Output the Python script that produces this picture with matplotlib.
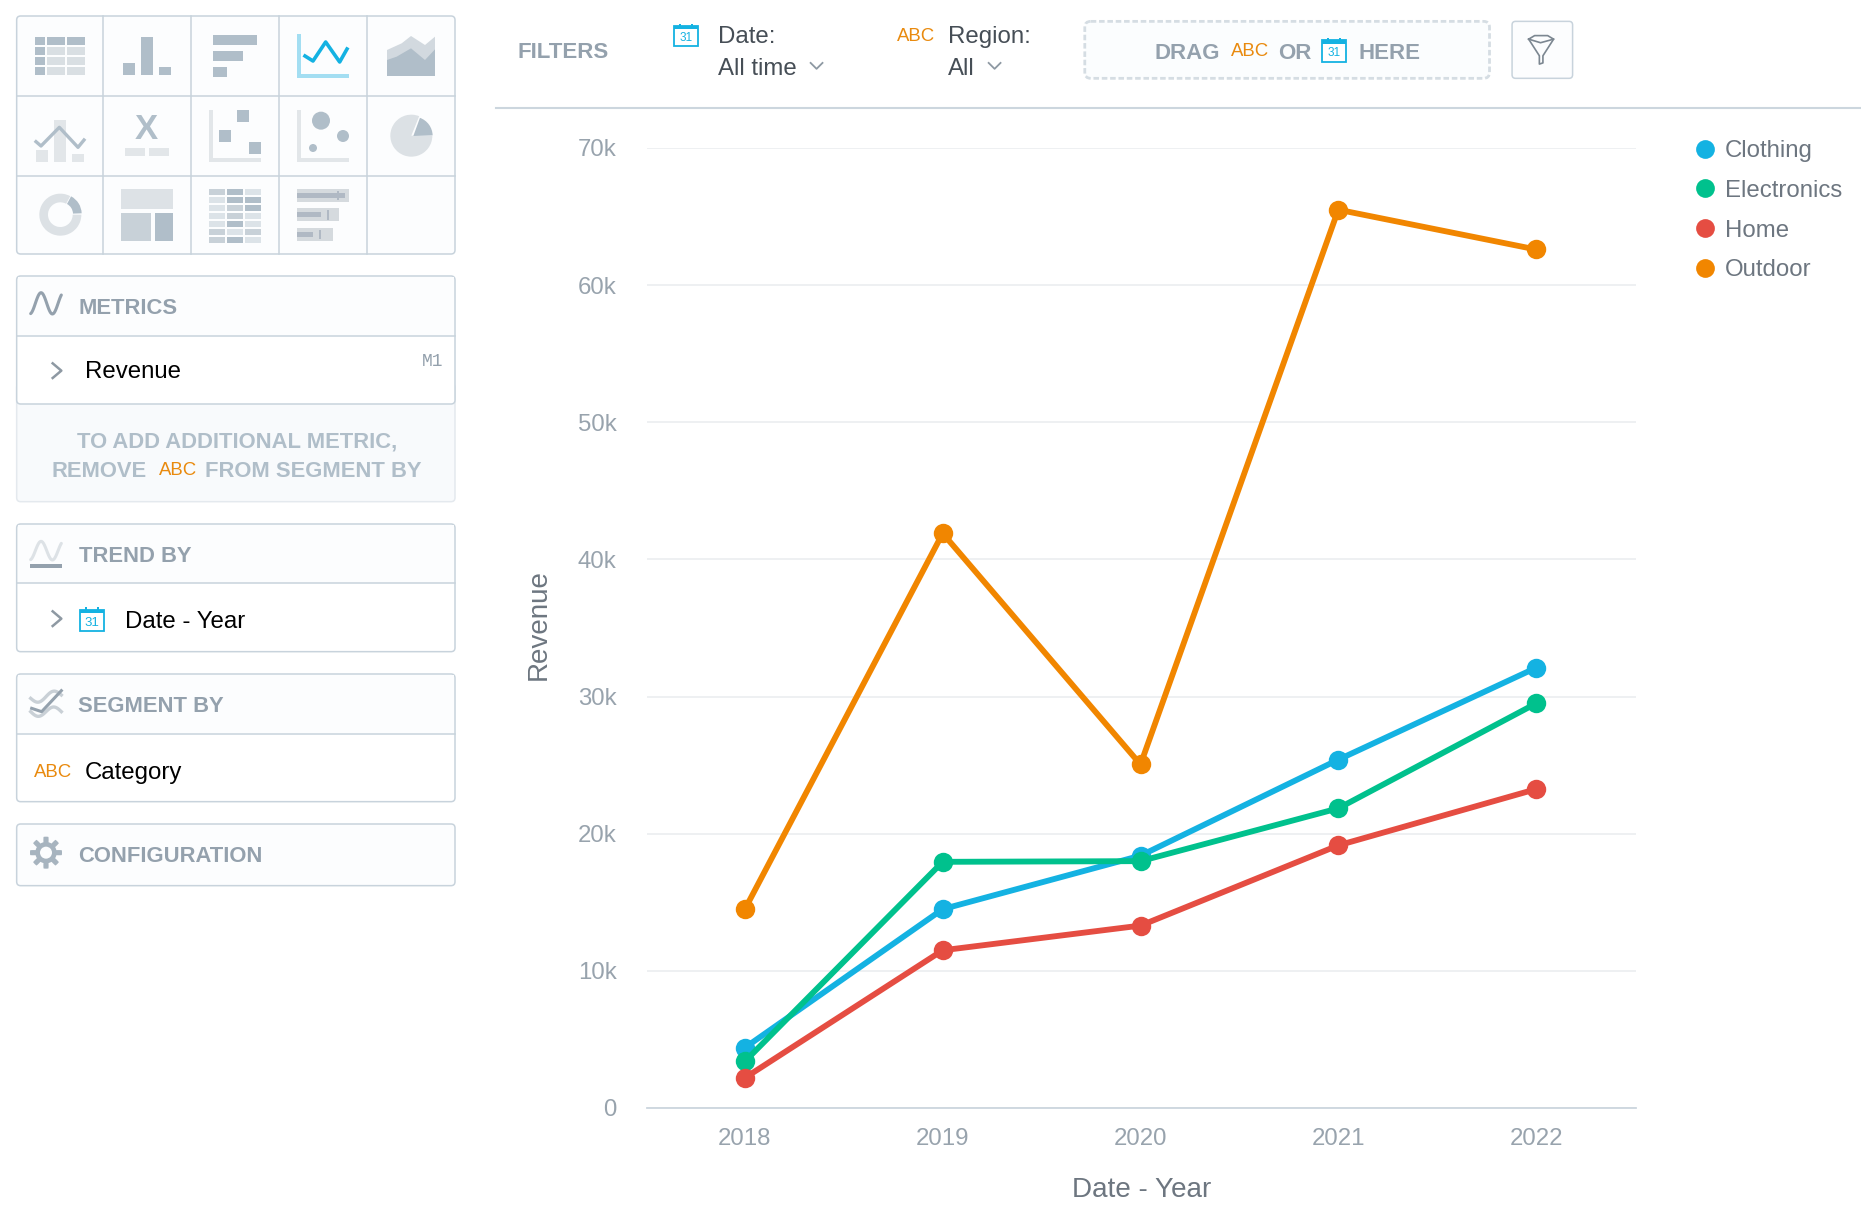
import numpy as np
import matplotlib
matplotlib.use('Agg')
import matplotlib.pyplot as plt
from matplotlib.lines import Line2D
from matplotlib.patches import Circle, FancyBboxPatch, Polygon, Rectangle, Wedge

plt.rcParams['font.family'] = ['Liberation Sans', 'DejaVu Sans']

# chart data
years = ['2018', '2019', '2020', '2021', '2022']
categories = ['Clothing', 'Electronics', 'Home', 'Outdoor']
clothing = [4400, 14500, 18400, 25400, 32100]
electronics = [3400, 17950, 18000, 21850, 29500]
home = [2200, 11500, 13300, 19150, 23250]
outdoor = [14500, 41900, 25050, 65500, 62600]
y_ticks = [0, 10000, 20000, 30000, 40000, 50000, 60000, 70000]
y_tick_labels = ['0', '10k', '20k', '30k', '40k', '50k', '60k', '70k']

BLUE = '#14b2e2'
GREEN = '#00c18d'
RED = '#e54d42'
ORANGE = '#f18600'
ABC = '#e98a0e'
GREY = '#94a1ad'
DARK = '#b0bec9'
MID = '#c8d1d8'
LIGHT = '#dde2e6'
EDGE = '#c8d3dc'
colors = [BLUE, GREEN, RED, ORANGE]

W, H = 1861, 1222
fig = plt.figure(figsize=(W / 100, H / 100), dpi=100, facecolor='white')

# chart, positions worked out in pixels of the reference
left, right, top, bottom = 647, 1636, 148, 1108
ax = fig.add_axes([left / W, 1 - bottom / H, (right - left) / W, (bottom - top) / H])
xs = np.arange(len(years))
for name, vals, c in zip(categories, [clothing, electronics, home, outdoor], colors):
    ax.plot(xs, vals, color=c, lw=4.2, marker='o', ms=14, mew=0, label=name,
            solid_joinstyle='miter', clip_on=False, zorder=3)
ax.set_xlim(-0.495, 4.505)
ax.set_ylim(0, 70000)
ax.set_xticks(xs, years)
ax.set_yticks(y_ticks, y_tick_labels)
ax.tick_params(length=0, labelsize=17.3, labelcolor='#98a3ad')
ax.tick_params(axis='y', pad=22)
ax.tick_params(axis='x', pad=14.5)
ax.grid(axis='y', color='#e9ecef', lw=1.1)
ax.set_axisbelow(True)
for s in ['top', 'left', 'right']:
    ax.spines[s].set_visible(False)
ax.spines['bottom'].set_color('#ccd6de')
ax.spines['bottom'].set_linewidth(1.3)
ax.set_xlabel('Date - Year', fontsize=20.1, color='#6d7680')
ax.set_ylabel('Revenue', fontsize=20.1, color='#6d7680')
ax.xaxis.set_label_coords(0.5, -(1190 - bottom) / (bottom - top), transform=ax.transAxes)
ax.yaxis.set_label_coords(-(left - 538.5) / (right - left), 0.5037, transform=ax.transAxes)
ax.yaxis.label.set_va('center')
ax.xaxis.label.set_va('center')

handles = [Line2D([], [], color=c, ls='none', marker='o', ms=13.5, mew=0) for c in colors]
fig.legend(handles, categories, loc='upper left', bbox_to_anchor=(1694.5 / W, 1 - 140 / H),
           frameon=False, fontsize=17.3, labelcolor='#6d7680', labelspacing=0.74,
           handlelength=0.9, handletextpad=0.35, borderaxespad=0, borderpad=0)

# overlay for the UI around the chart: ui uses 1568 wide picture units, ic is 3x real pixels
ui = fig.add_axes([0, 0, 1, 1], zorder=-1)
ui.set_xlim(0, 1568)
ui.set_ylim(1568 * H / W, 0)
ui.axis('off')
ic = fig.add_axes([0, 0, 1, 1], zorder=-1)
ic.set_xlim(0, W * 3)
ic.set_ylim(H * 3, 0)
ic.axis('off')


def rect(a, x0, y0, x1, y1, c):
    a.add_patch(Rectangle((x0, y0), x1 - x0, y1 - y0, fc=c, ec='none'))


def line(a, pts, c, lw=2.0, **kw):
    a.plot([p[0] for p in pts], [p[1] for p in pts], color=c, lw=lw, **kw)


def box(a, x0, y0, x1, y1, fc='white', ec=EDGE, lw=1.1, r=12, **kw):
    a.add_patch(FancyBboxPatch((x0 + r, y0 + r), x1 - x0 - 2 * r, y1 - y0 - 2 * r,
                               boxstyle='round,pad=%d,rounding_size=%d' % (r, r),
                               fc=fc, ec=ec, lw=lw, **kw))


def label(a, x, y, s, size=17.3, c='black', weight='normal', ha='left', **kw):
    a.text(x, y, s, fontsize=size, color=c, fontweight=weight, ha=ha, va='center_baseline', **kw)


def chevron_right(a, x, y):
    line(a, [(x, y - 22), (x + 26, y), (x, y + 22)], '#8e99a3', lw=1.8)


def chevron_down(a, x, y):
    line(a, [(x, y), (x + 5, y + 5), (x + 10, y)], '#8e99a3', lw=1.3)


def calendar(a, x0, y0, x1, y1, size=9):
    h = y1 - y0
    a.add_patch(Rectangle((x0, y0 + 0.1 * h), x1 - x0, 0.9 * h, fc='white', ec=BLUE, lw=1.3))
    rect(a, x0, y0 + 0.1 * h, x1, y0 + 0.24 * h, BLUE)
    w = x1 - x0
    rect(a, x0 + 0.2 * w, y0, x0 + 0.28 * w, y0 + 0.2 * h, BLUE)
    rect(a, x0 + 0.72 * w, y0, x0 + 0.8 * w, y0 + 0.2 * h, BLUE)
    a.text((x0 + x1) / 2, y0 + 0.65 * h, '31', fontsize=size, color=BLUE, ha='center', va='center')


def wave(a, y_mid, amp, c):
    t = np.linspace(0, 1, 50)
    line(a, list(zip(92 + 92 * t, y_mid - amp * np.sin(8.48 * t - 1.3))), c, lw=2.2,
         solid_capstyle='round')


# chart type picker
box(ic, 50, 48, 1365, 762, fc='#fcfdfe')
for x in [309, 573, 837, 1101]:
    line(ic, [(x, 48), (x, 762)], EDGE, lw=1.1)
for y in [288, 527]:
    line(ic, [(50, y), (1365, y)], EDGE, lw=1.1)

# table
for i, (y0, y1) in enumerate([(112, 135), (141, 165), (171, 195), (201, 225)]):
    for j, (x0, x1) in enumerate([(105, 135), (141, 195), (201, 255)]):
        rect(ic, x0, y0, x1, y1, DARK if i == 0 or j == 0 else '#d9dfe3')
# column and bar icons
for r_ in [(369, 189, 405, 225), (423, 112, 459, 225), (477, 201, 513, 225),
           (639, 105, 771, 135), (639, 153, 729, 183), (639, 201, 681, 231)]:
    rect(ic, *r_, DARK)
# line icon
rect(ic, 891, 102, 903, 234, '#a3def2')
rect(ic, 891, 222, 1047, 234, '#a3def2')
line(ic, [(915, 168), (939, 183), (977, 126), (1019, 186), (1041, 147)], BLUE, lw=2.6)
# area icon
ic.add_patch(Polygon([(1161, 150), (1205, 130), (1233, 108), (1275, 135), (1305, 110),
                      (1305, 228), (1161, 228)], fc='#d2d9df', ec='none'))
ic.add_patch(Polygon([(1161, 180), (1190, 170), (1233, 145), (1275, 180), (1305, 148),
                      (1305, 228), (1161, 228)], fc=DARK, ec='none'))
# combo icon
for r_ in [(108, 450, 144, 486), (162, 360, 198, 486), (216, 462, 252, 486)]:
    rect(ic, *r_, '#e2e6e9')
line(ic, [(108, 425), (123, 438), (178, 382), (234, 442), (252, 420)], DARK, lw=2.4)
# headline icon
ic.text(440, 388, 'X', fontsize=25, fontweight='bold', color=DARK, ha='center', va='center')
rect(ic, 375, 444, 435, 468, '#e2e6e9')
rect(ic, 447, 444, 507, 468, '#e2e6e9')
# scatter and bubble icons
for x0 in [627, 891]:
    rect(ic, x0, 330, x0 + 12, 486, '#e2e6e9')
    rect(ic, x0, 474, x0 + 156, 486, '#e2e6e9')
for r_ in [(711, 330, 747, 366), (657, 390, 693, 426), (747, 426, 783, 462)]:
    rect(ic, *r_, DARK)
for cx, cy, rad in [(963, 362, 27), (1029, 408, 18), (939, 444, 12)]:
    ic.add_patch(Circle((cx, cy), rad, fc=DARK, ec='none'))
# pie and donut icons
ic.add_patch(Wedge((1234, 407), 63, 0, 292, fc='#dce1e5', ec='none'))
ic.add_patch(Wedge((1240, 408), 58, -70, -2, fc=DARK, ec='none'))
ic.add_patch(Wedge((181, 644), 63, 0, 298, width=26, fc='#dce1e5', ec='none'))
ic.add_patch(Wedge((185, 642), 60, -62, -2, width=26, fc=DARK, ec='none'))
# treemap icon
rect(ic, 363, 567, 519, 627, LIGHT)
rect(ic, 363, 639, 453, 723, MID)
rect(ic, 465, 639, 519, 723, DARK)
# heatmap icon
heat = ['mdl', 'ldd', 'lmd', 'lml', 'ldl', 'mlm', 'mdl']
shade = {'d': DARK, 'm': MID, 'l': '#dce3e8'}
for i, row in enumerate(heat):
    y0 = 567 + 24 * i
    for j, k in enumerate(row):
        rect(ic, 627 + 54 * j, y0, 675 + 54 * j, y0 + 17, shade[k])
# bullet icon
for y0, xa, xb, xt in [(567, 1047, 1035, 1012), (625, 1017, 963, 981), (684, 999, 939, 957)]:
    rect(ic, 891, y0, xa, y0 + 39, '#d5dade')
    rect(ic, 891, y0 + 12, xb, y0 + 27, '#b0b9c4')
    rect(ic, xt, y0 + 5, xt + 6, y0 + 34, '#b0b9c4')

# metrics panel
box(ic, 50, 1150, 1365, 1505, fc='#f8fafc', ec='#e4e9ee')
box(ic, 50, 828, 1365, 1212, fc='white')
rect(ic, 53, 831, 1362, 1006, '#fcfdfe')
line(ic, [(50, 1008), (1365, 1008)], EDGE, lw=1.1)
wave(ic, 910, 32, GREY)
label(ic, 235, 917, 'METRICS', 15.8, GREY, 'bold')
chevron_right(ic, 158, 1112)
label(ic, 255, 1108, 'Revenue')
ic.text(1330, 1085, 'M1', fontsize=13, color=GREY, family='Liberation Mono', ha='right', va='center')
label(ic, 710, 1317, 'TO ADD ADDITIONAL METRIC,', 15.8, DARK, 'bold', ha='center')
label(ic, 155, 1407, 'REMOVE', 15.8, DARK, 'bold')
label(ic, 477, 1406, 'ABC', 13.4, ABC)
label(ic, 615, 1407, 'FROM SEGMENT BY', 15.8, DARK, 'bold')

# trend by panel
box(ic, 50, 1572, 1365, 1955)
rect(ic, 53, 1575, 1362, 1748, '#fcfdfe')
line(ic, [(50, 1750), (1365, 1750)], EDGE, lw=1.1)
wave(ic, 1652, 28, '#dde2e6')
rect(ic, 90, 1692, 186, 1704, GREY)
label(ic, 237, 1662, 'TREND BY', 15.8, GREY, 'bold')
chevron_right(ic, 158, 1856)
calendar(ic, 240, 1822, 312, 1892, size=9.5)
label(ic, 375, 1858, 'Date - Year')

# segment by panel
box(ic, 50, 2022, 1365, 2405)
rect(ic, 53, 2025, 1362, 2200, '#fcfdfe')
line(ic, [(50, 2202), (1365, 2202)], EDGE, lw=1.1)
t = np.linspace(0, 1, 40)
line(ic, list(zip(92 + 92 * t, 2095 + 14 * np.sin(2 * np.pi * t) - 10 * t)), '#c9d0d6', lw=2.4)
line(ic, list(zip(92 + 92 * t, 2135 + 14 * np.sin(2 * np.pi * t))), '#c9d0d6', lw=2.4)
line(ic, [(95, 2125), (125, 2135), (184, 2072)], GREY, lw=2.2)
label(ic, 235, 2112, 'SEGMENT BY', 15.8, GREY, 'bold')
label(ic, 102, 2310, 'ABC', 13.4, ABC)
label(ic, 255, 2310, 'Category')

# configuration panel
box(ic, 50, 2472, 1365, 2657, fc='#fcfdfe')
ang = np.linspace(0, 2 * np.pi, 321)[:-1]
rad = 40 + 8 * np.clip(3 * np.cos(8 * ang), -1, 1)
ic.add_patch(Polygon(np.c_[138 + rad * np.cos(ang), 2558 + rad * np.sin(ang)], fc='#a7b4bf', ec='none'))
ic.add_patch(Circle((138, 2558), 18, fc='#fcfdfe', ec='none'))
label(ic, 235, 2562, 'CONFIGURATION', 15.8, GREY, 'bold')

# filter bar
label(ui, 436, 42, 'FILTERS', 16, GREY, 'bold')
calendar(ui, 568, 20, 588, 39, size=8.5)
label(ui, 605, 29, 'Date:', c='#464e56')
label(ui, 605, 56, 'All time', c='#464e56')
chevron_down(ui, 683, 53)
label(ui, 756, 29, 'ABC', 13.4, ABC)
label(ui, 799, 29, 'Region:', c='#464e56')
label(ui, 799, 56, 'All', c='#464e56')
chevron_down(ui, 833, 53)
ui.add_patch(FancyBboxPatch((920, 24), 329, 36, boxstyle='round,pad=6,rounding_size=5',
                            fc='#fbfdfe', ec='#d5dde3', lw=2, ls=(0, (2, 1))))
label(ui, 973, 43, 'DRAG', 16, GREY, 'bold')
label(ui, 1037, 42, 'ABC', 13.4, ABC)
label(ui, 1077, 43, 'OR', 16, GREY, 'bold')
calendar(ui, 1114, 32, 1134, 52, size=8.5)
label(ui, 1145, 43, 'HERE', 16, GREY, 'bold')
box(ui, 1274, 18, 1325, 66, fc='#fcfdfe', r=3)
line(ui, [(1288, 33), (1297, 47), (1297, 54), (1300, 53), (1300, 47), (1309, 33)], '#7c8791', lw=1.2)
line(ui, [(1288, 33), (1293, 30), (1304, 30), (1309, 33), (1298, 36), (1288, 33)], '#7c8791', lw=1.2)
line(ui, [(418, 91), (1568, 91)], '#ccd6de', lw=1.5)

fig.savefig('out.png', dpi=100, facecolor='white')
